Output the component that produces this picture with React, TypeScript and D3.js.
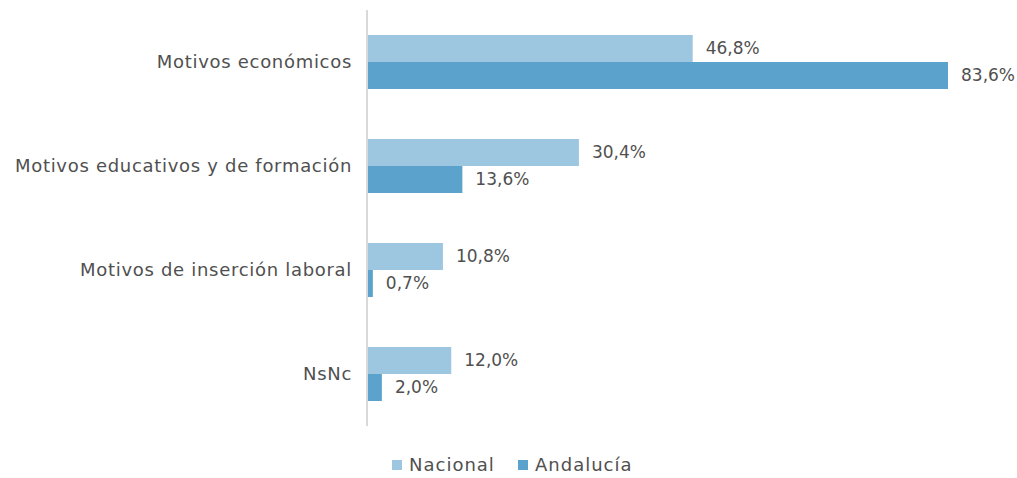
import React from "react";
import * as d3 from "d3";

const categories = [
  "Motivos económicos",
  "Motivos educativos y de formación",
  "Motivos de inserción laboral",
  "NsNc",
];
const nacional = [46.8, 30.4, 10.8, 12.0];
const andalucia = [83.6, 13.6, 0.7, 2.0];
const seriesNames = ["Nacional", "Andalucía"];
const colors = ["#9DC7E1", "#5BA3CD"];

const W = 1017;
const H = 478;
const FONT = "'DejaVu Sans', sans-serif";
const TEXT = "#505050";

export default function App() {
  const x = d3.scaleLinear().domain([0, 83.6]).range([368, 948]);
  const y = d3.scaleBand<string>().domain(categories).range([10, 426]);
  const barH = 27;
  const fmt = (v: number) => v.toFixed(1).replace(".", ",") + "%";
  const series = [nacional, andalucia];

  return (
    <svg width={W} height={H} style={{ position: "absolute", left: 0, top: 0 }}>
      <rect width={W} height={H} fill="#fff" />
      {categories.map((c, i) => {
        const cy = (y(c) as number) + y.bandwidth() / 2;
        return (
          <g key={c}>
            <text x={352} y={cy} dy="0.35em" textAnchor="end" fontFamily={FONT} fontSize={18} letterSpacing={0.7} fill={TEXT}>
              {c}
            </text>
            {series.map((s, k) => {
              const top = cy - barH + k * barH;
              return (
                <g key={k}>
                  <rect x={x(0)} y={top} width={x(s[i]) - x(0)} height={barH} fill={colors[k]} />
                  <text x={x(s[i]) + 13} y={top + barH / 2} dy="0.35em" fontFamily={FONT} fontSize={17} fill={TEXT}>
                    {fmt(s[i])}
                  </text>
                </g>
              );
            })}
          </g>
        );
      })}
      <line x1={367} x2={367} y1={10} y2={426} stroke="#d9d9d9" strokeWidth={2} />
      <g>
        {seriesNames.map((n, k) => {
          const lx = k === 0 ? 392 : 518;
          return (
            <g key={n}>
              <rect x={lx} y={460} width={10} height={10} fill={colors[k]} />
              <text x={lx + 17} y={465} dy="0.35em" fontFamily={FONT} fontSize={18} letterSpacing={1} fill={TEXT}>
                {n}
              </text>
            </g>
          );
        })}
      </g>
    </svg>
  );
}
